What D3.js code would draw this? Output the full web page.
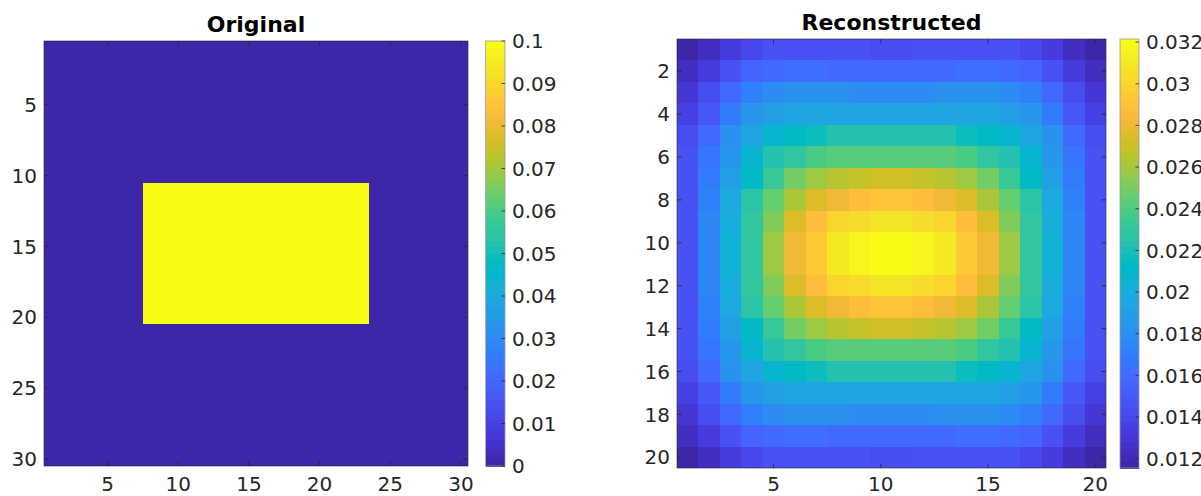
<!DOCTYPE html>
<html>
<head>
<meta charset="utf-8">
<script src="https://cdn.jsdelivr.net/npm/d3@7/dist/d3.min.js"></script>
<style>
  body { margin: 0; background: #fff; }
  svg text { font-family: "DejaVu Sans", sans-serif; fill: #262626; }
</style>
</head>
<body>
<div id="chart"></div>
<script>
// parula, 64 entries
const parula = [
  [0.2422,0.1504,0.6603],[0.2504,0.1650,0.7076],[0.2578,0.1818,0.7511],[0.2647,0.1978,0.7952],
  [0.2706,0.2147,0.8364],[0.2751,0.2342,0.8710],[0.2783,0.2559,0.8991],[0.2803,0.2782,0.9221],
  [0.2813,0.3006,0.9414],[0.2810,0.3228,0.9579],[0.2795,0.3447,0.9717],[0.2760,0.3667,0.9829],
  [0.2699,0.3892,0.9906],[0.2602,0.4123,0.9952],[0.2440,0.4358,0.9988],[0.2206,0.4603,0.9973],
  [0.1963,0.4847,0.9892],[0.1834,0.5074,0.9798],[0.1786,0.5289,0.9682],[0.1764,0.5499,0.9520],
  [0.1687,0.5703,0.9359],[0.1540,0.5902,0.9218],[0.1460,0.6091,0.9079],[0.1380,0.6276,0.8973],
  [0.1248,0.6459,0.8883],[0.1113,0.6635,0.8763],[0.0952,0.6798,0.8598],[0.0689,0.6948,0.8394],
  [0.0297,0.7082,0.8163],[0.0036,0.7203,0.7917],[0.0067,0.7312,0.7660],[0.0433,0.7411,0.7394],
  [0.0964,0.7500,0.7120],[0.1408,0.7584,0.6842],[0.1717,0.7670,0.6554],[0.1938,0.7758,0.6251],
  [0.2161,0.7843,0.5923],[0.2470,0.7918,0.5567],[0.2906,0.7973,0.5188],[0.3406,0.8008,0.4789],
  [0.3909,0.8029,0.4354],[0.4456,0.8024,0.3909],[0.5044,0.7993,0.3480],[0.5616,0.7942,0.3045],
  [0.6174,0.7876,0.2612],[0.6720,0.7793,0.2227],[0.7242,0.7698,0.1910],[0.7738,0.7598,0.1646],
  [0.8203,0.7498,0.1535],[0.8634,0.7406,0.1596],[0.9035,0.7330,0.1774],[0.9393,0.7288,0.2100],
  [0.9728,0.7298,0.2394],[0.9956,0.7434,0.2371],[0.9970,0.7659,0.2199],[0.9952,0.7893,0.2028],
  [0.9892,0.8136,0.1885],[0.9786,0.8386,0.1766],[0.9676,0.8639,0.1643],[0.9610,0.8890,0.1537],
  [0.9597,0.9135,0.1423],[0.9628,0.9373,0.1265],[0.9691,0.9606,0.1064],[0.9769,0.9839,0.0805]
]

// original image, 30 x 30
const original = [
  [0,0,0,0,0,0,0,0,0,0,0,0,0,0,0,0,0,0,0,0,0,0,0,0,0,0,0,0,0,0],
  [0,0,0,0,0,0,0,0,0,0,0,0,0,0,0,0,0,0,0,0,0,0,0,0,0,0,0,0,0,0],
  [0,0,0,0,0,0,0,0,0,0,0,0,0,0,0,0,0,0,0,0,0,0,0,0,0,0,0,0,0,0],
  [0,0,0,0,0,0,0,0,0,0,0,0,0,0,0,0,0,0,0,0,0,0,0,0,0,0,0,0,0,0],
  [0,0,0,0,0,0,0,0,0,0,0,0,0,0,0,0,0,0,0,0,0,0,0,0,0,0,0,0,0,0],
  [0,0,0,0,0,0,0,0,0,0,0,0,0,0,0,0,0,0,0,0,0,0,0,0,0,0,0,0,0,0],
  [0,0,0,0,0,0,0,0,0,0,0,0,0,0,0,0,0,0,0,0,0,0,0,0,0,0,0,0,0,0],
  [0,0,0,0,0,0,0,0,0,0,0,0,0,0,0,0,0,0,0,0,0,0,0,0,0,0,0,0,0,0],
  [0,0,0,0,0,0,0,0,0,0,0,0,0,0,0,0,0,0,0,0,0,0,0,0,0,0,0,0,0,0],
  [0,0,0,0,0,0,0,0,0,0,0,0,0,0,0,0,0,0,0,0,0,0,0,0,0,0,0,0,0,0],
  [0,0,0,0,0,0,0,0.1,0.1,0.1,0.1,0.1,0.1,0.1,0.1,0.1,0.1,0.1,0.1,0.1,0.1,0.1,0.1,0,0,0,0,0,0,0],
  [0,0,0,0,0,0,0,0.1,0.1,0.1,0.1,0.1,0.1,0.1,0.1,0.1,0.1,0.1,0.1,0.1,0.1,0.1,0.1,0,0,0,0,0,0,0],
  [0,0,0,0,0,0,0,0.1,0.1,0.1,0.1,0.1,0.1,0.1,0.1,0.1,0.1,0.1,0.1,0.1,0.1,0.1,0.1,0,0,0,0,0,0,0],
  [0,0,0,0,0,0,0,0.1,0.1,0.1,0.1,0.1,0.1,0.1,0.1,0.1,0.1,0.1,0.1,0.1,0.1,0.1,0.1,0,0,0,0,0,0,0],
  [0,0,0,0,0,0,0,0.1,0.1,0.1,0.1,0.1,0.1,0.1,0.1,0.1,0.1,0.1,0.1,0.1,0.1,0.1,0.1,0,0,0,0,0,0,0],
  [0,0,0,0,0,0,0,0.1,0.1,0.1,0.1,0.1,0.1,0.1,0.1,0.1,0.1,0.1,0.1,0.1,0.1,0.1,0.1,0,0,0,0,0,0,0],
  [0,0,0,0,0,0,0,0.1,0.1,0.1,0.1,0.1,0.1,0.1,0.1,0.1,0.1,0.1,0.1,0.1,0.1,0.1,0.1,0,0,0,0,0,0,0],
  [0,0,0,0,0,0,0,0.1,0.1,0.1,0.1,0.1,0.1,0.1,0.1,0.1,0.1,0.1,0.1,0.1,0.1,0.1,0.1,0,0,0,0,0,0,0],
  [0,0,0,0,0,0,0,0.1,0.1,0.1,0.1,0.1,0.1,0.1,0.1,0.1,0.1,0.1,0.1,0.1,0.1,0.1,0.1,0,0,0,0,0,0,0],
  [0,0,0,0,0,0,0,0.1,0.1,0.1,0.1,0.1,0.1,0.1,0.1,0.1,0.1,0.1,0.1,0.1,0.1,0.1,0.1,0,0,0,0,0,0,0],
  [0,0,0,0,0,0,0,0,0,0,0,0,0,0,0,0,0,0,0,0,0,0,0,0,0,0,0,0,0,0],
  [0,0,0,0,0,0,0,0,0,0,0,0,0,0,0,0,0,0,0,0,0,0,0,0,0,0,0,0,0,0],
  [0,0,0,0,0,0,0,0,0,0,0,0,0,0,0,0,0,0,0,0,0,0,0,0,0,0,0,0,0,0],
  [0,0,0,0,0,0,0,0,0,0,0,0,0,0,0,0,0,0,0,0,0,0,0,0,0,0,0,0,0,0],
  [0,0,0,0,0,0,0,0,0,0,0,0,0,0,0,0,0,0,0,0,0,0,0,0,0,0,0,0,0,0],
  [0,0,0,0,0,0,0,0,0,0,0,0,0,0,0,0,0,0,0,0,0,0,0,0,0,0,0,0,0,0],
  [0,0,0,0,0,0,0,0,0,0,0,0,0,0,0,0,0,0,0,0,0,0,0,0,0,0,0,0,0,0],
  [0,0,0,0,0,0,0,0,0,0,0,0,0,0,0,0,0,0,0,0,0,0,0,0,0,0,0,0,0,0],
  [0,0,0,0,0,0,0,0,0,0,0,0,0,0,0,0,0,0,0,0,0,0,0,0,0,0,0,0,0,0],
  [0,0,0,0,0,0,0,0,0,0,0,0,0,0,0,0,0,0,0,0,0,0,0,0,0,0,0,0,0,0]
]

// reconstructed image, 20 x 20
const reconstructed = [
  [0.01155,0.01236,0.01332,0.01396,0.01461,0.01461,0.01461,0.01461,0.01461,0.01429,0.01429,0.01461,0.01461,0.01461,0.01461,0.01461,0.01396,0.01332,0.01236,0.01155],
  [0.01236,0.01332,0.01461,0.01557,0.01590,0.01622,0.01622,0.01590,0.01590,0.01590,0.01590,0.01590,0.01590,0.01622,0.01622,0.01590,0.01557,0.01461,0.01332,0.01236],
  [0.01300,0.01429,0.01590,0.01718,0.01783,0.01815,0.01815,0.01815,0.01783,0.01783,0.01783,0.01783,0.01815,0.01815,0.01815,0.01783,0.01718,0.01590,0.01429,0.01300],
  [0.01364,0.01493,0.01686,0.01847,0.01911,0.01944,0.01944,0.01944,0.01944,0.01944,0.01944,0.01944,0.01944,0.01944,0.01944,0.01911,0.01847,0.01686,0.01493,0.01364],
  [0.01429,0.01590,0.01815,0.01944,0.02072,0.02137,0.02169,0.02233,0.02233,0.02233,0.02233,0.02233,0.02233,0.02169,0.02137,0.02072,0.01944,0.01815,0.01590,0.01429],
  [0.01461,0.01654,0.01847,0.02072,0.02233,0.02298,0.02394,0.02426,0.02426,0.02426,0.02426,0.02426,0.02426,0.02394,0.02298,0.02233,0.02072,0.01847,0.01654,0.01461],
  [0.01461,0.01686,0.01911,0.02137,0.02330,0.02491,0.02587,0.02652,0.02684,0.02716,0.02716,0.02684,0.02652,0.02587,0.02491,0.02330,0.02137,0.01911,0.01686,0.01461],
  [0.01461,0.01718,0.01976,0.02265,0.02459,0.02620,0.02748,0.02813,0.02877,0.02909,0.02909,0.02877,0.02813,0.02748,0.02620,0.02459,0.02265,0.01976,0.01718,0.01461],
  [0.01461,0.01751,0.02008,0.02298,0.02523,0.02748,0.02877,0.03006,0.03038,0.03070,0.03070,0.03038,0.03006,0.02877,0.02748,0.02523,0.02298,0.02008,0.01751,0.01461],
  [0.01461,0.01751,0.02040,0.02298,0.02587,0.02813,0.02941,0.03102,0.03167,0.03215,0.03215,0.03167,0.03102,0.02941,0.02813,0.02587,0.02298,0.02040,0.01751,0.01461],
  [0.01461,0.01751,0.02040,0.02298,0.02587,0.02813,0.02941,0.03102,0.03167,0.03215,0.03215,0.03167,0.03102,0.02941,0.02813,0.02587,0.02298,0.02040,0.01751,0.01461],
  [0.01461,0.01751,0.02008,0.02298,0.02523,0.02748,0.02877,0.03006,0.03038,0.03070,0.03070,0.03038,0.03006,0.02877,0.02748,0.02523,0.02298,0.02008,0.01751,0.01461],
  [0.01461,0.01718,0.01976,0.02265,0.02459,0.02620,0.02748,0.02813,0.02877,0.02909,0.02909,0.02877,0.02813,0.02748,0.02620,0.02459,0.02265,0.01976,0.01718,0.01461],
  [0.01461,0.01686,0.01911,0.02137,0.02330,0.02491,0.02587,0.02652,0.02684,0.02716,0.02716,0.02684,0.02652,0.02587,0.02491,0.02330,0.02137,0.01911,0.01686,0.01461],
  [0.01461,0.01654,0.01847,0.02072,0.02233,0.02298,0.02394,0.02426,0.02426,0.02426,0.02426,0.02426,0.02426,0.02394,0.02298,0.02233,0.02072,0.01847,0.01654,0.01461],
  [0.01429,0.01590,0.01815,0.01944,0.02072,0.02137,0.02169,0.02233,0.02233,0.02233,0.02233,0.02233,0.02233,0.02169,0.02137,0.02072,0.01944,0.01815,0.01590,0.01429],
  [0.01364,0.01493,0.01686,0.01847,0.01911,0.01944,0.01944,0.01944,0.01944,0.01944,0.01944,0.01944,0.01944,0.01944,0.01944,0.01911,0.01847,0.01686,0.01493,0.01364],
  [0.01300,0.01429,0.01590,0.01718,0.01783,0.01815,0.01815,0.01815,0.01783,0.01783,0.01783,0.01783,0.01815,0.01815,0.01815,0.01783,0.01718,0.01590,0.01429,0.01300],
  [0.01236,0.01332,0.01461,0.01557,0.01590,0.01622,0.01622,0.01590,0.01590,0.01590,0.01590,0.01590,0.01590,0.01622,0.01622,0.01590,0.01557,0.01461,0.01332,0.01236],
  [0.01155,0.01236,0.01332,0.01396,0.01461,0.01461,0.01461,0.01461,0.01461,0.01429,0.01429,0.01461,0.01461,0.01461,0.01461,0.01461,0.01396,0.01332,0.01236,0.01155]
]

const originalTicks = [5, 10, 15, 20, 25, 30]
const originalBarTicks = [0, 0.01, 0.02, 0.03, 0.04, 0.05, 0.06, 0.07, 0.08, 0.09, 0.1]
const reconXTicks = [5, 10, 15, 20]
const reconYTicks = [2, 4, 6, 8, 10, 12, 14, 16, 18, 20]
const reconBarTicks = [0.012, 0.014, 0.016, 0.018, 0.02, 0.022, 0.024, 0.026, 0.028, 0.03, 0.032]

const svgWidth = 1201
const svgHeight = 496
const svg = d3.select("#chart").append("svg")
  .attr("width", svgWidth)
  .attr("height", svgHeight)

const fontSize = 20
const tickLen = 4.5
const xLabelBaseline = 490.5

function parulaColor(v, cmin, cmax) {
  let k = Math.floor((v - cmin) / (cmax - cmin) * 64)
  k = Math.max(0, Math.min(63, k))
  const c = parula[k]
  return d3.rgb(c[0] * 255, c[1] * 255, c[2] * 255)
}

function drawPanel(cfg) {
  const data = cfg.data
  const nRows = data.length
  const nCols = data[0].length
  const flat = data.flat()
  const clim = cfg.clim || d3.extent(flat)

  const x = d3.scaleLinear().domain([0.5, nCols + 0.5]).range([cfg.x0, cfg.x1])
  const y = d3.scaleLinear().domain([0.5, nRows + 0.5]).range([cfg.y0, cfg.y1])

  const cells = []
  data.forEach((row, i) => row.forEach((v, j) => cells.push({ r: i + 1, c: j + 1, v: v })))

  const g = svg.append("g")

  g.append("g")
    .attr("shape-rendering", "crispEdges")
    .selectAll("rect")
    .data(cells)
    .enter()
    .append("rect")
    .attr("x", d => Math.round(x(d.c - 0.5)))
    .attr("y", d => Math.round(y(d.r - 0.5)))
    .attr("width", d => Math.round(x(d.c + 0.5)) - Math.round(x(d.c - 0.5)))
    .attr("height", d => Math.round(y(d.r + 0.5)) - Math.round(y(d.r - 0.5)))
    .attr("fill", d => parulaColor(d.v, clim[0], clim[1]))

  // box
  g.append("rect")
    .attr("x", cfg.x0).attr("y", cfg.y0)
    .attr("width", cfg.x1 - cfg.x0).attr("height", cfg.y1 - cfg.y0)
    .attr("fill", "none").attr("stroke", "#262626").attr("stroke-width", 0.6)

  // ticks (inward, mirrored like matlab)
  const tk = g.append("g").attr("stroke", "#262626").attr("stroke-width", 0.8)
  cfg.xTicks.forEach(t => {
    tk.append("line").attr("x1", x(t)).attr("x2", x(t)).attr("y1", cfg.y1).attr("y2", cfg.y1 - tickLen)
    tk.append("line").attr("x1", x(t)).attr("x2", x(t)).attr("y1", cfg.y0).attr("y2", cfg.y0 + tickLen)
  })
  cfg.yTicks.forEach(t => {
    tk.append("line").attr("y1", y(t)).attr("y2", y(t)).attr("x1", cfg.x0).attr("x2", cfg.x0 + tickLen)
    tk.append("line").attr("y1", y(t)).attr("y2", y(t)).attr("x1", cfg.x1).attr("x2", cfg.x1 - tickLen)
  })

  g.selectAll("text.xt")
    .data(cfg.xTicks)
    .enter()
    .append("text")
    .attr("class", "xt")
    .attr("x", d => x(d))
    .attr("y", xLabelBaseline)
    .attr("text-anchor", "middle")
    .attr("font-size", fontSize)
    .text(d => d)

  g.selectAll("text.yt")
    .data(cfg.yTicks)
    .enter()
    .append("text")
    .attr("class", "yt")
    .attr("x", cfg.x0 - 7)
    .attr("y", d => y(d))
    .attr("dy", "0.36em")
    .attr("text-anchor", "end")
    .attr("font-size", fontSize)
    .text(d => d)

  g.append("text")
    .attr("x", (cfg.x0 + cfg.x1) / 2)
    .attr("y", cfg.y0 - 9)
    .attr("text-anchor", "middle")
    .attr("font-size", 22)
    .attr("font-weight", "bold")
    .style("fill", "#000")
    .text(cfg.title)

  // colorbar
  const cb = d3.scaleLinear().domain(clim).range([cfg.y1, cfg.y0])
  const bands = d3.range(64)
  const step = (clim[1] - clim[0]) / 64
  g.append("g")
    .attr("shape-rendering", "crispEdges")
    .selectAll("rect")
    .data(bands)
    .enter()
    .append("rect")
    .attr("x", cfg.cbX0)
    .attr("width", cfg.cbX1 - cfg.cbX0)
    .attr("y", k => cb(clim[0] + (k + 1) * step))
    .attr("height", k => cb(clim[0] + k * step) - cb(clim[0] + (k + 1) * step) + 0.5)
    .attr("fill", k => d3.rgb(parula[k][0] * 255, parula[k][1] * 255, parula[k][2] * 255))

  g.append("rect")
    .attr("x", cfg.cbX0).attr("y", cfg.y0)
    .attr("width", cfg.cbX1 - cfg.cbX0).attr("height", cfg.y1 - cfg.y0)
    .attr("fill", "none").attr("stroke", "#9a9a9a").attr("stroke-width", 0.8)

  cfg.barTicks.forEach(t => {
    g.append("line")
      .attr("x1", cfg.cbX1).attr("x2", cfg.cbX1 - 3.5)
      .attr("y1", cb(t)).attr("y2", cb(t))
      .attr("stroke", "#262626").attr("stroke-width", 0.8)
  })

  g.selectAll("text.ct")
    .data(cfg.barTicks)
    .enter()
    .append("text")
    .attr("class", "ct")
    .attr("x", cfg.cbX1 + 7)
    .attr("y", d => cb(d))
    .attr("dy", "0.36em")
    .attr("font-size", fontSize)
    .text(d => String(d))
}

drawPanel({
  data: original, clim: [0, 0.1], title: "Original",
  x0: 44, x1: 468, y0: 41, y1: 466,
  cbX0: 485.5, cbX1: 505,
  xTicks: originalTicks, yTicks: originalTicks, barTicks: originalBarTicks
})

drawPanel({
  data: reconstructed, title: "Reconstructed",
  x0: 677, x1: 1106, y0: 39, y1: 468,
  cbX0: 1120, cbX1: 1139,
  xTicks: reconXTicks, yTicks: reconYTicks, barTicks: reconBarTicks
})
</script>
</body>
</html>
